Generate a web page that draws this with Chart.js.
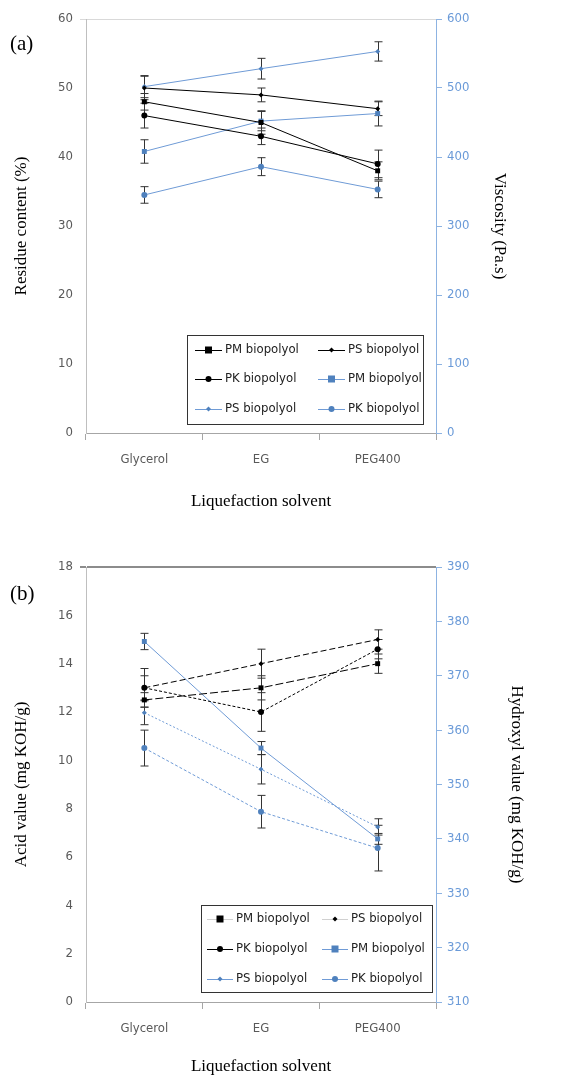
<!DOCTYPE html>
<html>
<head>
<meta charset="utf-8">
<script src="https://cdn.jsdelivr.net/npm/chart.js@4.4.1/dist/chart.umd.min.js"></script>
<style>
  body { margin: 0; background: #fff; width: 581px; height: 1075px; overflow: hidden; }
  #wrap { position: relative; width: 581px; height: 1075px; }
  canvas { position: absolute; left: 0; }
  #grafA { top: 0; }
  #grafB { top: 520px; }
  .painel { position: absolute; font-family: "Liberation Serif", "DejaVu Serif", serif; font-size: 21px; color: #000; }
</style>
</head>
<body>
<div id="wrap">
  <canvas id="grafA" width="581" height="520"></canvas>
  <canvas id="grafB" width="581" height="555"></canvas>
  <div class="painel" style="left:10px; top:31px;">(a)</div>
  <div class="painel" style="left:10px; top:581px;">(b)</div>
</div>
<script>
// categorias e nomes
var solventes = ["Glycerol", "EG", "PEG400"];
var nomes = ["PM biopolyol", "PS biopolyol", "PK biopolyol"];

// (a) teor de residuo (%) - eixo esquerdo
var residuoPM = [48, 45, 38];
var residuoPS = [50, 49, 47];
var residuoPK = [46, 43, 39];
var residuoPMErro = [1.2, 1.7, 1.3];
var residuoPSErro = [1.7, 1.0, 1.0];
var residuoPKErro = [1.8, 1.2, 2.0];

// (a) viscosidade (Pa.s) - eixo direito
var viscPM = [408, 452, 463];
var viscPS = [502, 528, 553];
var viscPK = [345, 386, 353];
var viscPMErro = [17, 14, 18];
var viscPSErro = [16, 15, 14];
var viscPKErro = [12, 13, 12];

// (b) indice de acidez (mg KOH/g) - eixo esquerdo
var acidoPM = [12.5, 13, 14];
var acidoPS = [13, 14, 15];
var acidoPK = [13, 12, 14.6];
var acidoPMErro = [0.3, 0.5, 0.4];
var acidoPSErro = [0.8, 0.6, 0.4];
var acidoPKErro = [0.5, 0.8, 0.4];

// (b) indice de hidroxila (mg KOH/g) - eixo direito
var hidroxPM = [376.3, 356.7, 340];
var hidroxPS = [363.2, 352.8, 342.2];
var hidroxPK = [356.7, 345, 338.3];
var hidroxPMErro = [1.5, 1.2, 1.0];
var hidroxPSErro = [2.2, 2.7, 1.5];
var hidroxPKErro = [3.3, 3.0, 4.2];

// rotulos dos eixos
var ticksAcido = ["0", "2", "4", "6", "8", "10", "12", "14", "16", "18"];

var fonteSans = "'Liberation Sans Narrow', 'DejaVu Sans Condensed', 'Open Sans', sans-serif";
var fonteSerif = "'Liberation Serif', 'DejaVu Serif', serif";
var preto = "#000000";
var azulPonto = "#4f81bd";
var azulLinha = "#6f9bd6";
var azulEixo = "#8db3e2";
var azulTexto = "#6a9ad8";
var cinza = "#595959";

Chart.defaults.font.family = fonteSans;
Chart.defaults.animation = false;

function desenharMarcador(ctx, estilo, r, x, y, cor) {
	ctx.fillStyle = cor;
	ctx.beginPath();
	if (estilo == "rect") {
		ctx.rect(x - r, y - r, r * 2, r * 2);
	} else if (estilo == "rectRot") {
		ctx.moveTo(x, y - r);
		ctx.lineTo(x + r, y);
		ctx.lineTo(x, y + r);
		ctx.lineTo(x - r, y);
		ctx.closePath();
	} else {
		ctx.arc(x, y, r, 0, Math.PI * 2);
	}
	ctx.fill();
}

// barras de erro usando as escalas do grafico
var barrasErro = {
	id: "barrasErro",
	beforeDatasetsDraw(chart) {
		var ctx = chart.ctx;
		var xs = chart.scales.x;
		ctx.save();
		ctx.strokeStyle = "#333";
		ctx.lineWidth = 1;
		ctx.setLineDash([]);
		chart.data.datasets.forEach((ds) => {
			if (!ds.erros) return;
			var ys = chart.scales[ds.yAxisID];
			ds.data.forEach((v, j) => {
				var px = Math.round(xs.getPixelForValue(j)) + 0.5;
				var topo = ys.getPixelForValue(v + ds.erros[j]);
				var base = ys.getPixelForValue(v - ds.erros[j]);
				ctx.beginPath();
				ctx.moveTo(px, topo);
				ctx.lineTo(px, base);
				ctx.moveTo(px - 4, topo);
				ctx.lineTo(px + 4, topo);
				ctx.moveTo(px - 4, base);
				ctx.lineTo(px + 4, base);
				ctx.stroke();
			});
		});
		ctx.restore();
	},
};

// legenda dentro da area do grafico
var legendaCaixa = {
	id: "legendaCaixa",
	afterDraw(chart, args, op) {
		var ctx = chart.ctx;
		ctx.save();
		ctx.fillStyle = "#fff";
		ctx.fillRect(op.x, op.y, op.w, op.h);
		ctx.strokeStyle = "#333";
		ctx.lineWidth = 1;
		ctx.strokeRect(op.x + 0.5, op.y + 0.5, op.w, op.h);
		ctx.font = op.fonte;
		ctx.textBaseline = "middle";
		chart.data.datasets.forEach((ds, i) => {
			var col = i % 2;
			var lin = Math.floor(i / 2);
			var lx = op.x + op.colunas[col];
			var ly = op.y + op.linhas[lin];
			ctx.strokeStyle = ds.corLegenda || ds.borderColor;
			ctx.lineWidth = 1;
			ctx.setLineDash([]);
			ctx.beginPath();
			ctx.moveTo(lx, ly + 0.5);
			ctx.lineTo(lx + op.tamLinha, ly + 0.5);
			ctx.stroke();
			desenharMarcador(ctx, ds.pointStyle, ds.pointRadius, lx + op.tamLinha / 2, ly, ds.pointBackgroundColor);
			ctx.fillStyle = "#222";
			ctx.fillText(ds.label, lx + op.tamLinha + 3, ly);
		});
		ctx.restore();
	},
};

function serie(rotulo, dados, erros, eixo, corLinha, corPonto, estilo, raio, traco, corLegenda) {
	return {
		label: rotulo,
		data: dados,
		erros: erros,
		yAxisID: eixo,
		borderColor: corLinha,
		borderWidth: 1,
		borderDash: traco,
		pointStyle: estilo,
		pointRadius: raio,
		pointBackgroundColor: corPonto,
		pointBorderColor: corPonto,
		pointBorderWidth: 0,
		corLegenda: corLegenda,
		fill: false,
		tension: 0,
	};
}

function eixoX(altura) {
	return {
		type: "category",
		offset: true,
		grid: { offset: true, drawOnChartArea: false, drawTicks: true, tickLength: 7, color: "#a6a6a6" },
		border: { color: "#a6a6a6" },
		ticks: { font: { size: 13 }, color: cinza, padding: 12, maxRotation: 0 },
		title: {
			display: true,
			text: "Liquefaction solvent",
			font: { family: fonteSerif, size: 17, lineHeight: 1.0 },
			color: "#000",
			padding: { top: 0, bottom: 0 },
		},
		afterFit: (s) => {
			s.height = altura;
		},
	};
}

// ---------- grafico (a) ----------
var grafA = new Chart(document.getElementById("grafA"), {
	type: "line",
	data: {
		labels: solventes,
		datasets: [
			serie(nomes[0], residuoPM, residuoPMErro, "y", preto, preto, "rect", 3.5, []),
			serie(nomes[1], residuoPS, residuoPSErro, "y", preto, preto, "rectRot", 2.5, []),
			serie(nomes[2], residuoPK, residuoPKErro, "y", preto, preto, "circle", 3, []),
			serie(nomes[0], viscPM, viscPMErro, "y1", azulLinha, azulPonto, "rect", 3.5, []),
			serie(nomes[1], viscPS, viscPSErro, "y1", azulLinha, azulPonto, "rectRot", 2.5, []),
			serie(nomes[2], viscPK, viscPKErro, "y1", azulLinha, azulPonto, "circle", 3, []),
		],
	},
	options: {
		responsive: false,
		layout: { padding: { left: 9, right: 69, top: 19, bottom: 10 } },
		plugins: {
			legend: { display: false },
			tooltip: { enabled: false },
			legendaCaixa: {
				x: 187, y: 335, w: 236, h: 89,
				colunas: [8, 131], linhas: [15, 44, 74],
				tamLinha: 27, fonte: "13px " + fonteSans,
			},
		},
		scales: {
			x: eixoX(77),
			y: {
				position: "left",
				min: 0,
				max: 60,
				ticks: { stepSize: 10, font: { size: 13 }, color: cinza, padding: 7 },
				grid: {
					drawTicks: true,
					tickLength: 6,
					color: (c) => (c.tick && c.tick.value == 60 ? "#d9d9d9" : "transparent"),
				},
				border: { color: "#bfbfbf" },
				title: {
					display: true,
					text: "Residue content (%)",
					font: { family: fonteSerif, size: 17, lineHeight: 1.0 },
					color: "#000",
					padding: { top: 4, bottom: 4 },
				},
				afterFit: (s) => {
					s.width = 77;
				},
			},
			y1: {
				position: "right",
				min: 0,
				max: 600,
				ticks: { stepSize: 100, font: { size: 13 }, color: azulTexto, padding: 5 },
				grid: { drawOnChartArea: false, drawTicks: true, tickLength: 6, color: azulEixo },
				border: { color: azulEixo },
				title: {
					display: true,
					text: "Viscosity (Pa.s)",
					font: { family: fonteSerif, size: 17, lineHeight: 1.0 },
					color: "#000",
					padding: { top: 4, bottom: 4 },
				},
				afterFit: (s) => {
					s.width = 76;
				},
			},
		},
	},
	plugins: [barrasErro, legendaCaixa],
});

// ---------- grafico (b) ----------
var grafB = new Chart(document.getElementById("grafB"), {
	type: "line",
	data: {
		labels: solventes,
		datasets: [
			serie(nomes[0], acidoPM, acidoPMErro, "y", preto, preto, "rect", 3.5, [8, 3], "#d0d0d0"),
			serie(nomes[1], acidoPS, acidoPSErro, "y", preto, preto, "rectRot", 2.5, [6, 3], "#d0d0d0"),
			serie(nomes[2], acidoPK, acidoPKErro, "y", preto, preto, "circle", 3, [3, 2]),
			serie(nomes[0], hidroxPM, hidroxPMErro, "y1", azulLinha, azulPonto, "rect", 3.5, []),
			serie(nomes[1], hidroxPS, hidroxPSErro, "y1", azulLinha, azulPonto, "rectRot", 2.5, [2, 2]),
			serie(nomes[2], hidroxPK, hidroxPKErro, "y1", azulLinha, azulPonto, "circle", 3, [3, 2]),
		],
	},
	options: {
		responsive: false,
		layout: { padding: { left: 9, right: 52, top: 47, bottom: 0 } },
		plugins: {
			legend: { display: false },
			tooltip: { enabled: false },
			legendaCaixa: {
				x: 201, y: 385, w: 231, h: 87,
				colunas: [6, 121], linhas: [14, 44, 74],
				tamLinha: 26, fonte: "13px " + fonteSans,
			},
		},
		scales: {
			x: eixoX(73),
			y: {
				position: "left",
				min: 0,
				max: 18,
				ticks: {
					stepSize: 2,
					font: { size: 13 },
					color: cinza,
					padding: 7,
					callback: (v) => ticksAcido[v / 2],
				},
				grid: {
					drawTicks: true,
					tickLength: 6,
					color: (c) => (c.tick && c.tick.value == 18 ? "#8c8c8c" : "transparent"),
					lineWidth: (c) => (c.tick && c.tick.value == 18 ? 2 : 1),
				},
				border: { color: "#bfbfbf" },
				title: {
					display: true,
					text: "Acid value (mg KOH/g)",
					font: { family: fonteSerif, size: 17, lineHeight: 1.0 },
					color: "#000",
					padding: { top: 4, bottom: 4 },
				},
				afterFit: (s) => {
					s.width = 77;
				},
			},
			y1: {
				position: "right",
				min: 310,
				max: 390,
				ticks: { stepSize: 10, font: { size: 13 }, color: azulTexto, padding: 5 },
				grid: { drawOnChartArea: false, drawTicks: true, tickLength: 6, color: azulEixo },
				border: { color: azulEixo },
				title: {
					display: true,
					text: "Hydroxyl value (mg KOH/g)",
					font: { family: fonteSerif, size: 17, lineHeight: 1.0 },
					color: "#000",
					padding: { top: 4, bottom: 4 },
				},
				afterFit: (s) => {
					s.width = 93;
				},
			},
		},
	},
	plugins: [barrasErro, legendaCaixa],
});
</script>
</body>
</html>
